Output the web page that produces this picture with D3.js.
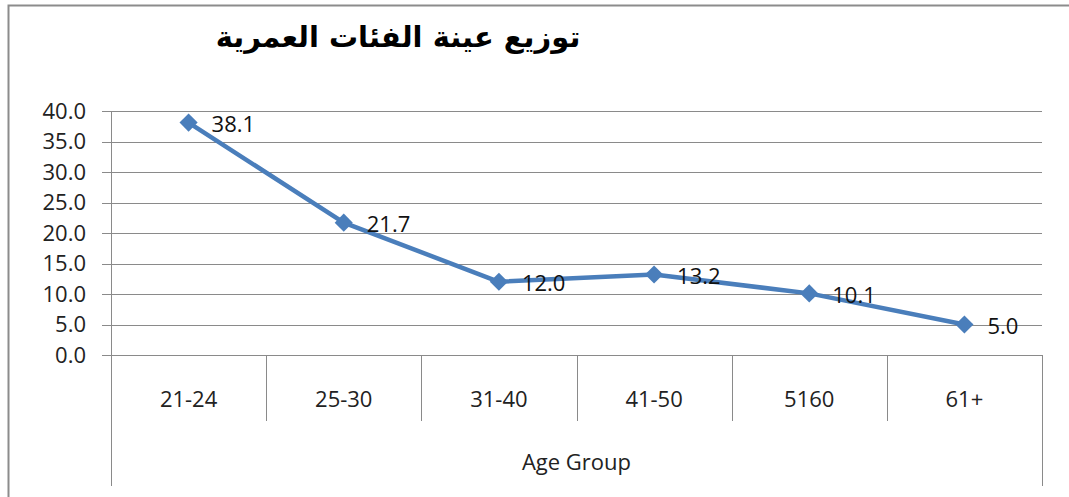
<!DOCTYPE html>
<html>
<head>
<meta charset="utf-8">
<script src="https://cdn.jsdelivr.net/npm/d3@7"></script>
<style>
  body { margin: 0; background: #fff; }
  text { font-family: "Open Sans", Lato, sans-serif; fill: #222; }
</style>
</head>
<body>
<div id="chart"></div>
<script>
(function() {

  var categories = ["21-24", "25-30", "31-40", "41-50", "5160", "61+"];
  var values = [38.1, 21.7, 12.0, 13.2, 10.1, 5.0];
  var yTicks = [0, 5, 10, 15, 20, 25, 30, 35, 40];
  var title = "توزيع عينة الفئات العمرية";
  var axisTitle = "Age Group";

  var W = 1069, H = 497;
  var margin = { top: 111, left: 111, right: 27, bottom: 142 },
  width = W - margin.left - margin.right,
  height = H - margin.top - margin.bottom;

  var svg = d3.select("#chart")
        .append("svg")
        .attr("width", W)
        .attr("height", H);

  // chart frame (right and bottom edges fall outside the picture)
  svg.append("rect")
    .attr("x", 8.5).attr("y", 5.5)
    .attr("width", W + 20).attr("height", H + 20)
    .attr("fill", "none")
    .attr("stroke", "#8c8c8c")
    .attr("stroke-width", 2);

  svg.append("text")
    .attr("x", 398).attr("y", 47)
    .attr("text-anchor", "middle")
    .style("font-family", "'DejaVu Sans', sans-serif")
    .style("font-weight", "bold")
    .style("font-size", "29px")
    .style("fill", "#000")
    .text(title);

  var g = svg.append("g")
    .attr("transform", "translate(" + margin.left + "," + margin.top + ")");

  var x = d3.scaleBand().domain(categories).range([0, width]);
  var y = d3.scaleLinear().domain([0, 40]).range([height, 0]);

  // horizontal gridlines
  g.selectAll(".grid")
    .data(yTicks)
    .enter().append("line")
    .attr("x1", -9).attr("x2", width)
    .attr("y1", function(d){ return Math.round(y(d)) + 0.5; })
    .attr("y2", function(d){ return Math.round(y(d)) + 0.5; })
    .attr("stroke", "#8a8a8a")
    .attr("stroke-width", 1);

  // y axis labels
  var yAxis = d3.axisLeft(y).tickValues(yTicks).tickSize(0).tickPadding(25)
    .tickFormat(d3.format(".1f"));
  var ya = g.append("g").call(yAxis);
  ya.select(".domain").remove();
  ya.selectAll("text")
    .style("font-family", "'Open Sans', sans-serif")
    .style("font-size", "22px")
    .attr("fill", "#222");

  // vertical axis line
  g.append("line")
    .attr("x1", 0.5).attr("x2", 0.5)
    .attr("y1", 0).attr("y2", height + 131)
    .attr("stroke", "#8a8a8a");

  // category dividers
  var edges = categories.map(function(c){ return x(c) + x.bandwidth(); });
  g.selectAll(".div")
    .data(edges)
    .enter().append("line")
    .attr("x1", function(d){ return Math.round(d) + 0.5; })
    .attr("x2", function(d){ return Math.round(d) + 0.5; })
    .attr("y1", height)
    .attr("y2", function(d, i){ return i === edges.length - 1 ? height + 131 : height + 66; })
    .attr("stroke", "#8a8a8a");

  g.selectAll(".cat")
    .data(categories)
    .enter().append("text")
    .attr("x", function(d){ return x(d) + x.bandwidth() / 2; })
    .attr("y", height + 52)
    .attr("text-anchor", "middle")
    .style("font-size", "22px")
    .text(function(d){ return d; });

  g.append("text")
    .attr("x", width / 2)
    .attr("y", height + 115)
    .attr("text-anchor", "middle")
    .style("font-size", "22px")
    .text(axisTitle);

  // series
  var pts = categories.map(function(c, i){ return [x(c) + x.bandwidth() / 2, y(values[i]), values[i]]; });

  g.append("path")
    .datum(pts)
    .attr("d", d3.line().x(function(d){ return d[0]; }).y(function(d){ return d[1]; }))
    .attr("fill", "none")
    .attr("stroke", "#4a7ebb")
    .attr("stroke-width", 4.5)
    .attr("stroke-linejoin", "round");

  g.selectAll(".mk")
    .data(pts)
    .enter().append("path")
    .attr("d", d3.symbol().type(d3.symbolDiamond2).size(210))
    .attr("transform", function(d){ return "translate(" + d[0] + "," + d[1] + ")"; })
    .attr("fill", "#4a7ebb");

  g.selectAll(".lbl")
    .data(pts)
    .enter().append("text")
    .attr("x", function(d){ return d[0] + 23; })
    .attr("y", function(d){ return d[1]; })
    .attr("dy", "0.42em")
    .style("font-size", "22px")
    .style("fill", "#111")
    .text(function(d){ return d3.format(".1f")(d[2]); });

})();
</script>
</body>
</html>
